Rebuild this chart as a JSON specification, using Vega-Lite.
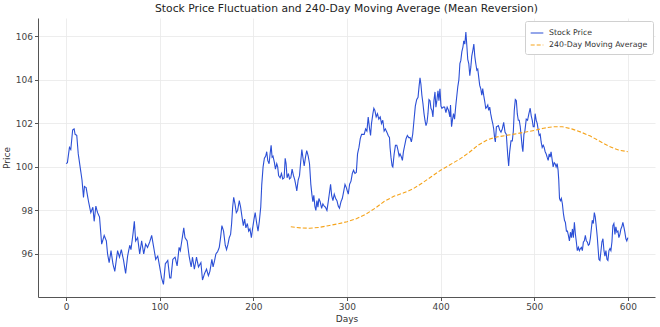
{
  "$schema": "https://vega.github.io/schema/vega-lite/v6.json",
  "width": 617,
  "height": 279,
  "autosize": "none",
  "padding": {"left": 38, "top": 18, "right": 5, "bottom": 30},
  "background": "white",
  "config": {
    "font": "DejaVu Sans",
    "view": {"stroke": null},
    "axis": {
      "domainColor": "#555555",
      "domainWidth": 1,
      "tickColor": "#555555",
      "tickSize": 3.5,
      "labelFontSize": 9,
      "labelColor": "#444444",
      "labelPadding": 2,
      "titleFontSize": 9,
      "titleFontWeight": "normal",
      "titleColor": "#333333",
      "gridColor": "#e8e8e8",
      "gridWidth": 0.8
    },
    "legend": {
      "labelFontSize": 7.8,
      "labelColor": "#333333"
    }
  },
  "title": {
    "text": "Stock Price Fluctuation and 240-Day Moving Average (Mean Reversion)",
    "fontSize": 10.75,
    "fontWeight": "normal",
    "color": "#222222",
    "offset": 3,
    "anchor": "middle"
  },
  "datasets": {
    "price": [
      {"day":0,"value":100.15},{"day":1.4,"value":100.2},{"day":3.6,"value":100.9},{"day":5,"value":100.8},{"day":7,"value":101.7},{"day":8.6,"value":101.75},{"day":9.6,"value":101.5},{"day":11.4,"value":101.45},{"day":13,"value":100.6},{"day":15,"value":100},{"day":17,"value":99.4},{"day":18.6,"value":98.6},{"day":19.6,"value":99.1},{"day":21.4,"value":99.05},{"day":24,"value":98.4},{"day":26.4,"value":97.9},{"day":28.6,"value":98.15},{"day":30,"value":97.5},{"day":31.8,"value":98.2},{"day":33.6,"value":97.9},{"day":35.7,"value":97.7},{"day":38,"value":96.45},{"day":40.7,"value":96.85},{"day":43,"value":96.6},{"day":44.3,"value":96},{"day":46,"value":95.6},{"day":48,"value":96.15},{"day":50,"value":95.55},{"day":52,"value":95.2},{"day":55,"value":96.15},{"day":57,"value":95.85},{"day":59,"value":96.2},{"day":61.4,"value":95.7},{"day":63.6,"value":95.1},{"day":65.7,"value":95.9},{"day":68,"value":96.4},{"day":69.3,"value":96.2},{"day":71.4,"value":96.9},{"day":72.9,"value":97.5},{"day":74.3,"value":96.6},{"day":76.4,"value":96.75},{"day":78.6,"value":96},{"day":80.7,"value":96.6},{"day":82.9,"value":96},{"day":85,"value":96.45},{"day":87,"value":96.3},{"day":89.3,"value":96.55},{"day":91.4,"value":96.85},{"day":93.6,"value":96.3},{"day":95.7,"value":95.75},{"day":97.9,"value":95.9},{"day":100,"value":95.4},{"day":102,"value":94.9},{"day":104,"value":94.6},{"day":106,"value":95.55},{"day":108.6,"value":95.7},{"day":110.7,"value":94.9},{"day":112,"value":94.9},{"day":114,"value":95.75},{"day":116.4,"value":95.85},{"day":118.6,"value":95.45},{"day":120.7,"value":96.3},{"day":122,"value":96.15},{"day":123.6,"value":96.6},{"day":125.7,"value":97.2},{"day":127,"value":96.75},{"day":129.3,"value":96.6},{"day":131.4,"value":95.9},{"day":133.6,"value":95.4},{"day":135,"value":95.85},{"day":137,"value":95.3},{"day":139.3,"value":95.85},{"day":141.4,"value":95.4},{"day":144,"value":95.6},{"day":145.7,"value":94.8},{"day":147.9,"value":95.1},{"day":150,"value":95.3},{"day":152,"value":95},{"day":153.6,"value":95.2},{"day":155.7,"value":95.75},{"day":157,"value":95.4},{"day":158.6,"value":95.7},{"day":160,"value":96},{"day":161.8,"value":96.1},{"day":163.6,"value":96.3},{"day":165,"value":96.75},{"day":166.4,"value":97.3},{"day":168.2,"value":97.05},{"day":170,"value":96.4},{"day":171.4,"value":96.2},{"day":172.9,"value":96.45},{"day":174.3,"value":96.75},{"day":175.7,"value":96.9},{"day":176.8,"value":97.4},{"day":177.9,"value":98.15},{"day":179,"value":98.6},{"day":180.4,"value":98.3},{"day":181.8,"value":97.9},{"day":183.2,"value":98},{"day":185,"value":98.45},{"day":186.4,"value":98.15},{"day":187.9,"value":97.7},{"day":189.3,"value":97.3},{"day":190.7,"value":97.6},{"day":192,"value":97.2},{"day":193.6,"value":97.4},{"day":195,"value":97.05},{"day":196.4,"value":97.15},{"day":197.9,"value":96.75},{"day":199.3,"value":97.2},{"day":200.7,"value":97.6},{"day":202,"value":97.9},{"day":203.6,"value":97.4},{"day":205,"value":97.05},{"day":206.4,"value":97.5},{"day":207.9,"value":98.15},{"day":209,"value":99.2},{"day":210.4,"value":100},{"day":211.8,"value":100.4},{"day":213.2,"value":100.5},{"day":214.3,"value":100.7},{"day":215.4,"value":100.3},{"day":216.8,"value":100.15},{"day":217.9,"value":100.6},{"day":219,"value":101},{"day":220,"value":100.45},{"day":221,"value":100.5},{"day":222.5,"value":100.2},{"day":223.6,"value":99.9},{"day":225,"value":100.15},{"day":226,"value":100},{"day":227,"value":99.6},{"day":228.6,"value":99.5},{"day":230,"value":99.7},{"day":231.4,"value":99.45},{"day":232.9,"value":99.5},{"day":234,"value":100.4},{"day":235,"value":100.15},{"day":236,"value":99.5},{"day":237.5,"value":99.7},{"day":238.6,"value":99.45},{"day":240,"value":99.5},{"day":241.4,"value":99.9},{"day":242.9,"value":99.6},{"day":244.3,"value":99.4},{"day":245.4,"value":99.15},{"day":246.4,"value":98.9},{"day":247.9,"value":99.4},{"day":249.3,"value":99.6},{"day":250.4,"value":100.15},{"day":251.8,"value":100.8},{"day":252.9,"value":100.45},{"day":254.3,"value":100.05},{"day":255.7,"value":100.45},{"day":257,"value":100.75},{"day":258.6,"value":100.5},{"day":260,"value":100.15},{"day":261.4,"value":99.2},{"day":262.5,"value":98.75},{"day":263.6,"value":98.4},{"day":264.6,"value":98.7},{"day":265.7,"value":98.2},{"day":266.8,"value":98},{"day":267.9,"value":98.45},{"day":269,"value":98.15},{"day":270,"value":98.55},{"day":271.4,"value":98.4},{"day":272.9,"value":98.1},{"day":274.3,"value":98.3},{"day":275.7,"value":98.2},{"day":277,"value":98.15},{"day":278.6,"value":98},{"day":280,"value":98.4},{"day":281.4,"value":98.85},{"day":282.5,"value":99.2},{"day":283.6,"value":98.7},{"day":285,"value":98.45},{"day":286.4,"value":98.75},{"day":287.9,"value":98.55},{"day":289.3,"value":98.45},{"day":290.7,"value":98.2},{"day":292,"value":98.1},{"day":293.6,"value":98.4},{"day":295,"value":98.55},{"day":296.4,"value":98.85},{"day":297.9,"value":99.2},{"day":299.3,"value":99.05},{"day":301.4,"value":98.75},{"day":302.8,"value":99.2},{"day":304.3,"value":99.35},{"day":305.7,"value":99.7},{"day":307,"value":99.85},{"day":308.5,"value":99.7},{"day":310,"value":99.75},{"day":311.3,"value":100.6},{"day":312.8,"value":100.9},{"day":314.2,"value":101.3},{"day":315.6,"value":101.5},{"day":317,"value":101.5},{"day":318.4,"value":101.5},{"day":319.9,"value":101.75},{"day":321.3,"value":101.65},{"day":322.7,"value":102.3},{"day":324,"value":101.8},{"day":325.2,"value":101.45},{"day":326.2,"value":102},{"day":327.7,"value":102.45},{"day":328.7,"value":102.7},{"day":329.8,"value":102.6},{"day":331.2,"value":102.3},{"day":332.6,"value":102.45},{"day":334,"value":102.2},{"day":335.5,"value":102.3},{"day":336.9,"value":102},{"day":338.3,"value":102.15},{"day":339.7,"value":101.65},{"day":341,"value":101.75},{"day":342.6,"value":101.6},{"day":344,"value":101.45},{"day":345.4,"value":101.35},{"day":346,"value":100.9},{"day":347,"value":100.45},{"day":348.2,"value":100.05},{"day":349,"value":100},{"day":350.4,"value":100.6},{"day":351.8,"value":101},{"day":353.2,"value":101},{"day":354.6,"value":100.75},{"day":355.7,"value":100.5},{"day":356.7,"value":100.6},{"day":358.2,"value":100.45},{"day":359.2,"value":100.3},{"day":360.3,"value":100.7},{"day":361.7,"value":101},{"day":363.1,"value":101.3},{"day":364.5,"value":101.45},{"day":366,"value":101.35},{"day":367.4,"value":101.35},{"day":368.8,"value":101.15},{"day":370.2,"value":101.5},{"day":371.6,"value":102.15},{"day":373,"value":102.8},{"day":374.5,"value":103.1},{"day":375.9,"value":103.2},{"day":377,"value":103.7},{"day":378,"value":104.1},{"day":379,"value":103.8},{"day":380,"value":103.3},{"day":381.2,"value":102.9},{"day":382.3,"value":102.45},{"day":383.3,"value":102.15},{"day":384.4,"value":101.9},{"day":385.5,"value":102.05},{"day":386.5,"value":102.45},{"day":387.6,"value":103.1},{"day":388.7,"value":103.05},{"day":389.7,"value":102.7},{"day":390.8,"value":102.6},{"day":391.8,"value":102.3},{"day":392.9,"value":103.05},{"day":394,"value":103.45},{"day":395,"value":102.75},{"day":396,"value":103.05},{"day":397.2,"value":103.5},{"day":398.2,"value":103.05},{"day":399.3,"value":103.6},{"day":400.4,"value":102.8},{"day":401.4,"value":102.7},{"day":402.8,"value":102.75},{"day":404.3,"value":102.75},{"day":405.7,"value":102.5},{"day":407,"value":102.75},{"day":408.5,"value":102.6},{"day":409.9,"value":102.3},{"day":410.6,"value":102.85},{"day":411.7,"value":101.85},{"day":412.8,"value":102.2},{"day":413.8,"value":102.45},{"day":414.9,"value":102.2},{"day":416.3,"value":102.85},{"day":417.4,"value":103.3},{"day":418.4,"value":103.7},{"day":419.5,"value":104},{"day":420.6,"value":104.75},{"day":421.6,"value":104.9},{"day":422.7,"value":105.3},{"day":423.8,"value":105.5},{"day":424.8,"value":105.8},{"day":425.9,"value":105.65},{"day":427,"value":106.2},{"day":428,"value":105.6},{"day":429,"value":104.95},{"day":430.1,"value":104.75},{"day":431.2,"value":104.2},{"day":432.3,"value":104.6},{"day":433.3,"value":105.1},{"day":434.4,"value":105.35},{"day":435.5,"value":105.65},{"day":436.5,"value":105.1},{"day":437.6,"value":104.75},{"day":438.7,"value":104.45},{"day":439.7,"value":104.5},{"day":440.8,"value":104.1},{"day":441.8,"value":103.75},{"day":442.9,"value":103.6},{"day":444,"value":103.3},{"day":445,"value":103.6},{"day":446,"value":103.3},{"day":447.2,"value":103},{"day":448.2,"value":102.7},{"day":449.3,"value":102.75},{"day":450.4,"value":102.85},{"day":451.4,"value":102.6},{"day":452.5,"value":102.75},{"day":453.5,"value":102.45},{"day":454.6,"value":102.2},{"day":455.7,"value":102},{"day":456.7,"value":101.75},{"day":457.8,"value":101.3},{"day":458.5,"value":101.15},{"day":459.6,"value":101.85},{"day":461.7,"value":101.9},{"day":463.1,"value":101.7},{"day":464.5,"value":101.6},{"day":465.9,"value":101.75},{"day":467.4,"value":102.05},{"day":468.8,"value":101.6},{"day":470.2,"value":101.5},{"day":471.6,"value":100.6},{"day":472.7,"value":100.05},{"day":473.8,"value":100.7},{"day":475.2,"value":101.2},{"day":476.6,"value":101.2},{"day":477.7,"value":101.65},{"day":478.7,"value":102.6},{"day":479.8,"value":103.1},{"day":480.9,"value":103.05},{"day":481.9,"value":102.45},{"day":483,"value":102.15},{"day":484,"value":102.15},{"day":485.1,"value":101.85},{"day":486.2,"value":101.35},{"day":487.2,"value":100.9},{"day":487.9,"value":100.7},{"day":489,"value":101.5},{"day":490,"value":101.65},{"day":491.5,"value":102.2},{"day":492.9,"value":102.15},{"day":494.3,"value":102.45},{"day":495.7,"value":102.7},{"day":496.8,"value":102.35},{"day":497.9,"value":102.15},{"day":498.9,"value":101.85},{"day":500,"value":101.85},{"day":501,"value":102.45},{"day":502.1,"value":102.15},{"day":503.2,"value":102},{"day":504.3,"value":101.7},{"day":505.3,"value":101.45},{"day":506.4,"value":101.5},{"day":507.4,"value":101.15},{"day":508.5,"value":100.9},{"day":509.6,"value":101},{"day":510.6,"value":100.9},{"day":511.7,"value":100.7},{"day":512.8,"value":100.6},{"day":513.8,"value":100.45},{"day":514.9,"value":100.3},{"day":516,"value":100.6},{"day":517,"value":100.45},{"day":518,"value":100.7},{"day":519.1,"value":100.35},{"day":520.2,"value":100},{"day":521.3,"value":100.2},{"day":522.3,"value":100.15},{"day":523.4,"value":100},{"day":524.5,"value":100.15},{"day":525.5,"value":99.85},{"day":526.2,"value":99.4},{"day":527,"value":98.55},{"day":528,"value":98.45},{"day":529,"value":98.55},{"day":530.1,"value":98.3},{"day":531.2,"value":97.85},{"day":532.3,"value":97.55},{"day":533.3,"value":97.45},{"day":534.4,"value":97.05},{"day":535.5,"value":97.05},{"day":536.5,"value":96.85},{"day":537.6,"value":96.6},{"day":538.7,"value":97},{"day":539.7,"value":96.75},{"day":540.8,"value":97.15},{"day":541.8,"value":96.75},{"day":542.9,"value":97.45},{"day":544,"value":96.9},{"day":545,"value":96.55},{"day":546,"value":96.15},{"day":547.2,"value":96.3},{"day":548.2,"value":96.15},{"day":549.3,"value":96.25},{"day":550.4,"value":96.3},{"day":551.4,"value":96.15},{"day":552.5,"value":96.55},{"day":553.5,"value":96.6},{"day":554.6,"value":96.85},{"day":555.7,"value":96.6},{"day":556.7,"value":96.55},{"day":557.8,"value":96.4},{"day":558.9,"value":96.45},{"day":559.9,"value":96.7},{"day":561,"value":97.15},{"day":562,"value":97.55},{"day":563.1,"value":97.4},{"day":564.2,"value":97.9},{"day":565.2,"value":97.7},{"day":566.3,"value":97.25},{"day":567.4,"value":96.75},{"day":568.4,"value":96.15},{"day":569.1,"value":95.75},{"day":570.2,"value":95.7},{"day":571.3,"value":96.15},{"day":572.3,"value":96.55},{"day":573.4,"value":96.7},{"day":574.5,"value":96.15},{"day":575.5,"value":95.9},{"day":576.6,"value":96.15},{"day":577.7,"value":95.75},{"day":578.7,"value":95.7},{"day":579.8,"value":96.15},{"day":580.9,"value":96.25},{"day":581.9,"value":96.15},{"day":583,"value":96.55},{"day":584,"value":97.3},{"day":585.1,"value":97.4},{"day":586.2,"value":96.9},{"day":587.2,"value":97.25},{"day":588.3,"value":97},{"day":589.4,"value":97.05},{"day":590.4,"value":96.75},{"day":591.5,"value":96.9},{"day":592.6,"value":97.15},{"day":593.6,"value":97.25},{"day":594.7,"value":97.45},{"day":595.7,"value":97.25},{"day":596.8,"value":97},{"day":597.9,"value":96.7},{"day":598.9,"value":96.6},{"day":600,"value":96.75}
    ],
    "ma": [
      {"day":240,"value":97.25},{"day":250,"value":97.2},{"day":260,"value":97.18},{"day":270,"value":97.22},{"day":280,"value":97.3},{"day":290,"value":97.38},{"day":300,"value":97.48},{"day":310,"value":97.62},{"day":320,"value":97.82},{"day":330,"value":98.1},{"day":340,"value":98.42},{"day":350,"value":98.65},{"day":360,"value":98.8},{"day":370,"value":98.98},{"day":380,"value":99.25},{"day":390,"value":99.55},{"day":400,"value":99.85},{"day":410,"value":100.1},{"day":420,"value":100.35},{"day":430,"value":100.65},{"day":440,"value":101.0},{"day":450,"value":101.25},{"day":460,"value":101.38},{"day":470,"value":101.45},{"day":480,"value":101.52},{"day":490,"value":101.6},{"day":500,"value":101.68},{"day":510,"value":101.78},{"day":520,"value":101.85},{"day":530,"value":101.85},{"day":540,"value":101.75},{"day":550,"value":101.6},{"day":560,"value":101.42},{"day":570,"value":101.18},{"day":580,"value":100.95},{"day":590,"value":100.78},{"day":600,"value":100.7}
    ]
  },
  "encoding": {
    "x": {
      "field": "day",
      "type": "quantitative",
      "scale": {"domain": [-30, 629], "nice": false, "zero": false},
      "axis": {"title": "Days", "values": [0, 100, 200, 300, 400, 500, 600], "titlePadding": 3}
    },
    "y": {
      "field": "value",
      "type": "quantitative",
      "scale": {"domain": [94.02, 106.85], "nice": false, "zero": false},
      "axis": {"title": "Price", "values": [96, 98, 100, 102, 104, 106], "titlePadding": 4}
    },
    "color": {
      "field": "series",
      "type": "nominal",
      "scale": {"domain": ["Stock Price", "240-Day Moving Average"], "range": ["#2b4fd6", "#f5a31a"]},
      "legend": {
        "title": null,
        "orient": "none",
        "legendX": 487,
        "legendY": 3,
        "padding": 5,
        "strokeColor": "#d0d0d0",
        "fillColor": "white",
        "cornerRadius": 2,
        "symbolType": "stroke",
        "symbolSize": 160,
        "symbolStrokeWidth": 1.2,
        "rowPadding": 1,
        "labelOffset": 5
      }
    },
    "strokeDash": {
      "field": "series",
      "type": "nominal",
      "scale": {"domain": ["Stock Price", "240-Day Moving Average"], "range": [[1, 0], [4, 2]]},
      "legend": null
    }
  },
  "layer": [
    {
      "data": {"name": "price"},
      "transform": [{"calculate": "'Stock Price'", "as": "series"}],
      "mark": {"type": "line", "strokeWidth": 1.1, "interpolate": "linear"}
    },
    {
      "data": {"name": "ma"},
      "transform": [{"calculate": "'240-Day Moving Average'", "as": "series"}],
      "mark": {"type": "line", "strokeWidth": 1.1}
    }
  ]
}
